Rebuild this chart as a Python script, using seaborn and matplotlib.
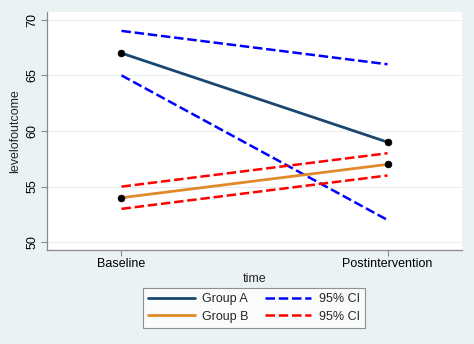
import matplotlib
matplotlib.use("Agg")
import matplotlib.pyplot as plt
import seaborn as sns
import pandas as pd
from matplotlib.lines import Line2D

time_labels = ["Baseline", "Postintervention"]
group_a = [67, 59]
group_a_hi = [69, 66]
group_a_lo = [65, 52]
group_b = [54, 57]
group_b_hi = [55, 58]
group_b_lo = [53, 56]

sns.set_theme(style="white")
plt.rcParams['font.family'] = ['Liberation Sans', 'DejaVu Sans']

bg = "#eaf2f3"
fig = plt.figure(figsize=(4.74, 3.44), dpi=100, facecolor=bg)
ax = fig.add_axes([47/474, 1-250/344, (462-47)/474, (250-12)/344])
ax.set_facecolor("white")

x = [0, 1]
navy = "#1a476f"
orange = "#e08a2a"
dash = (0, (3.8, 1.5))

def line(y, color, ls, lw, marker=False):
    df = pd.DataFrame({"t": x, "v": y})
    sns.lineplot(data=df, x="t", y="v", ax=ax, color=color, linestyle=ls, linewidth=lw)
    if marker:
        sns.scatterplot(data=df, x="t", y="v", ax=ax, color="black", s=25, zorder=5, edgecolor="black")

line(group_a_hi, "#0000ff", dash, 1.8)
line(group_a_lo, "#0000ff", dash, 1.8)
line(group_b_hi, "#ff0000", dash, 1.8)
line(group_b_lo, "#ff0000", dash, 1.8)
line(group_a, navy, "-", 2.0, marker=True)
line(group_b, orange, "-", 2.0, marker=True)

ax.set_xlim(-0.28, 1.28)
ax.set_ylim(49.3, 70.7)
ax.set_xticks(x)
ax.set_xticklabels(time_labels, fontsize=9)
ax.set_yticks([50, 55, 60, 65, 70])
ax.set_yticklabels(["50", "55", "60", "65", "70"], rotation=90, va="center", fontsize=9)
ax.set_xlabel("time", fontsize=9, labelpad=2)
ax.set_ylabel("levelofoutcome", fontsize=9, labelpad=4)
ax.grid(axis="y", color="#e8eef0", linewidth=0.8)
ax.set_axisbelow(True)
for s in ["top", "right"]:
    ax.spines[s].set_visible(False)
for s in ["left", "bottom"]:
    ax.spines[s].set_color("#8a8a8a")
    ax.spines[s].set_linewidth(0.9)
ax.tick_params(axis="both", which="both", length=4, width=0.8, color="#8a8a8a",
               direction="out", left=True, bottom=True, pad=2, colors="black")
ax.tick_params(colors="#8a8a8a", labelcolor="black")

handles = [
    Line2D([], [], color=navy, lw=2.0),
    Line2D([], [], color=orange, lw=2.0),
    Line2D([], [], color="#0000ff", lw=1.8, ls=dash),
    Line2D([], [], color="#ff0000", lw=1.8, ls=dash),
]
labels = ["Group A", "Group B", "95% CI", "95% CI"]
leg = fig.legend(handles, labels, ncol=2, loc="center", bbox_to_anchor=(254/474, 1-308/344),
                 frameon=True, fontsize=9, handlelength=3.7, columnspacing=1.3,
                 handletextpad=0.6, borderpad=0.45, labelspacing=0.45, fancybox=False)
leg.get_frame().set_edgecolor("#777777")
leg.get_frame().set_facecolor("white")
leg.get_frame().set_linewidth(0.8)

fig.savefig("out.png", dpi=100, facecolor=bg)
